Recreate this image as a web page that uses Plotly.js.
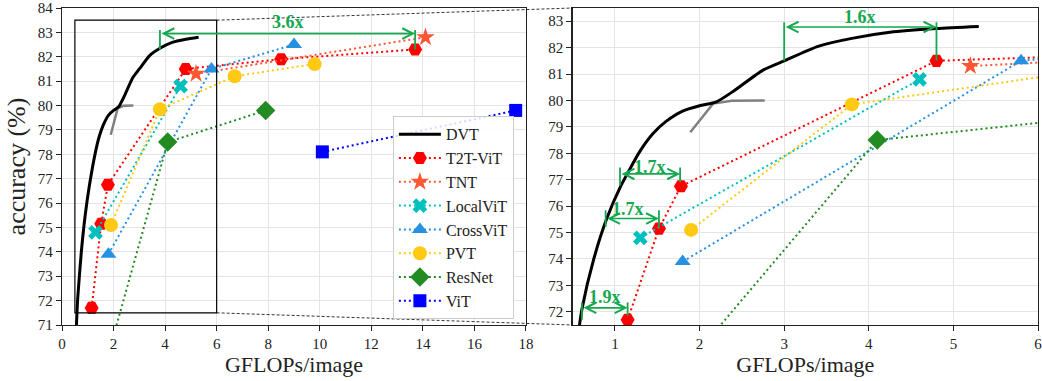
<!DOCTYPE html>
<html>
<head>
<meta charset="utf-8">
<script src="https://cdn.plot.ly/plotly-3.0.1.min.js"></script>
<style>html,body{margin:0;padding:0;background:#fff;}#chart{width:1042px;height:381px;}</style>
</head>
<body>
<div id="chart"></div>
<script>
// ---- data ----
const dvtX = [0.56,0.61,0.75,0.90,1.06,1.30,1.45,1.60,1.80,2.00,2.20,2.40,2.75,3.00,3.40,3.80,4.25,4.80,5.30];
const dvtY = [71.0,72.1,74.0,75.5,76.7,78.1,78.75,79.2,79.6,79.8,79.95,80.35,81.15,81.5,82.05,82.35,82.58,82.72,82.8];
const grayX = [1.89,2.05,2.16,2.38,2.77];
const grayY = [78.8,79.45,79.88,79.99,80.0];
const t2tX = [1.15,1.52,1.78,4.8,8.5,13.7];
const t2tY = [71.7,75.15,76.75,81.5,81.9,82.3];
const tntX = [5.2,14.1];
const tntY = [81.3,82.8];
const localX = [1.3,4.6];
const localY = [74.8,80.8];
const crossX = [1.8,5.8,9.0];
const crossY = [73.9,81.5,82.5];
const pvtX = [1.9,3.8,6.7,9.8];
const pvtY = [75.1,79.85,81.2,81.7];
const resX = [1.8,4.1,7.9];
const resY = [69.8,78.5,79.8];
const vitX = [10.1,17.6];
const vitY = [78.1,79.8];
const leftXTicks = [0,2,4,6,8,10,12,14,16,18];
const leftYTicks = [71,72,73,74,75,76,77,78,79,80,81,82,83,84];
const rightXTicks = [1,2,3,4,5,6];
const rightYTicks = [72,73,74,75,76,77,78,79,80,81,82,83];

const FONT = 'Liberation Serif, DejaVu Serif, serif';
const GREEN = '#14a84f';
const DOT = '2px,3px';

const series = [
  {name:'T2T-ViT', x:t2tX, y:t2tY, color:'#ff0000', symbol:'hexagon2', size:14},
  {name:'TNT', x:tntX, y:tntY, color:'#ff5733', symbol:'star', size:14},
  {name:'LocalViT', x:localX, y:localY, color:'#00bfbf', symbol:'x', size:13},
  {name:'CrossViT', x:crossX, y:crossY, color:'#2591e0', symbol:'triangle-up', size:14},
  {name:'PVT', x:pvtX, y:pvtY, color:'#ffc914', symbol:'circle', size:14},
  {name:'ResNet', x:resX, y:resY, color:'#228b22', symbol:'diamond', size:15},
  {name:'ViT', x:vitX, y:vitY, color:'#0000ff', symbol:'square', size:13}
];

const traces = [];
[['x','y',true],['x2','y2',false]].forEach(([xa,ya,leg]) => {
  traces.push({x:grayX, y:grayY, xaxis:xa, yaxis:ya, mode:'lines', line:{color:'#808080', width:2.5}, showlegend:false, hoverinfo:'skip'});
  traces.push({x:dvtX, y:dvtY, xaxis:xa, yaxis:ya, mode:'lines', name:'DVT', line:{color:'#000', width:3, shape:'spline', smoothing:0.6}, showlegend:leg, legendgroup:'DVT'});
  series.forEach(s => {
    traces.push({x:s.x, y:s.y, xaxis:xa, yaxis:ya, mode:'lines+markers', name:s.name, legendgroup:s.name, showlegend:leg,
      line:{color:s.color, width:2, dash:DOT},
      marker:{color:s.color, symbol:s.symbol, size:s.size, line:{width:0}}});
  });
});

const axisCommon = {
  showgrid:true, gridcolor:'#e4e4e4', gridwidth:1, zeroline:false,
  showline:true, linecolor:'#222', linewidth:1.3, mirror:true,
  ticks:'outside', ticklen:5, tickcolor:'#222', tickwidth:1,
  ticklabeloverflow:'allow',
  tickfont:{family:FONT, size:15, color:'#222'}
};

function dblArrow(xr, yr, x0, x1, y){
  return {xref:xr, yref:yr, axref:xr, ayref:yr, x:x1, y:y, ax:x0, ay:y, text:'', showarrow:true,
    arrowhead:5, startarrowhead:5, arrowside:'end+start', arrowsize:1.3, startarrowsize:1.3, arrowwidth:1.6, arrowcolor:GREEN,
    standoff:0, startstandoff:0};
}
function label(xr, yr, x, y, t){
  return {xref:xr, yref:yr, x:x, y:y, text:'<b>'+t+'</b>', showarrow:false, font:{family:FONT, size:18, color:GREEN}};
}
function vline(xr, yr, x, y0, y1){
  return {type:'line', xref:xr, yref:yr, x0:x, x1:x, y0:y0, y1:y1, line:{color:GREEN, width:1.8}};
}

const L = 0.4754, R0 = 0.5232;

const layout = {
  width:1042, height:381,
  margin:{l:62, r:4, t:8, b:56},
  paper_bgcolor:'#fff', plot_bgcolor:'#fff',
  font:{family:FONT, color:'#222'},
  xaxis: Object.assign({}, axisCommon, {domain:[0,L], range:[0,18], tickvals:leftXTicks, title:{text:'GFLOPs/image', font:{family:FONT, size:22}, standoff:4}}),
  yaxis: Object.assign({}, axisCommon, {domain:[0,1], range:[71,84], tickvals:leftYTicks, title:{text:'accuracy (%)', font:{family:FONT, size:26}, standoff:4}}),
  xaxis2: Object.assign({}, axisCommon, {domain:[R0,1], range:[0.5,6], tickvals:rightXTicks, anchor:'y2', title:{text:'GFLOPs/image', font:{family:FONT, size:22}, standoff:4}}),
  yaxis2: Object.assign({}, axisCommon, {domain:[0,1], range:[71.5,83.5], tickvals:rightYTicks, anchor:'x2'}),
  showlegend:true,
  legend:{x:0.463, y:0.018, xanchor:'right', yanchor:'bottom', bgcolor:'rgba(255,255,255,0.85)', bordercolor:'#cccccc', borderwidth:1,
    font:{family:FONT, size:16, color:'#222'}, itemwidth:42, tracegroupgap:0},
  shapes:[
    {type:'rect', xref:'x', yref:'y', x0:0.5, x1:6, y0:71.5, y1:83.5, line:{color:'#000', width:1.2}},
    {type:'line', xref:'paper', yref:'paper', x0:6/18*L, y0:12.5/13, x1:R0, y1:1, line:{color:'#000', width:0.8, dash:'3px,2px'}},
    {type:'line', xref:'paper', yref:'paper', x0:6/18*L, y0:0.5/13, x1:R0, y1:0, line:{color:'#000', width:0.8, dash:'3px,2px'}},
    vline('x','y',3.8,83.1,82.3), vline('x','y',13.7,83.1,82.3),
    vline('x2','y2',3.0,82.96,81.5), vline('x2','y2',4.8,82.96,81.5),
    vline('x2','y2',1.06,77.46,76.78), vline('x2','y2',1.77,77.46,76.9),
    vline('x2','y2',0.89,75.84,75.21), vline('x2','y2',1.52,75.84,75.25),
    vline('x2','y2',0.61,72.35,71.7), vline('x2','y2',1.15,72.35,71.85)
  ],
  annotations:[
    dblArrow('x','y',3.8,13.7,82.95), label('x','y',8.75,83.42,'3.6x'),
    dblArrow('x2','y2',3.0,4.8,82.78), label('x2','y2',3.9,83.15,'1.6x'),
    dblArrow('x2','y2',1.06,1.77,77.22), label('x2','y2',1.41,77.5,'1.7x'),
    dblArrow('x2','y2',0.89,1.52,75.53), label('x2','y2',1.15,75.88,'1.7x'),
    dblArrow('x2','y2',0.61,1.15,72.15), label('x2','y2',0.88,72.55,'1.9x')
  ]
};

Plotly.newPlot('chart', traces, layout, {displayModeBar:false, staticPlot:true});
</script>
</body>
</html>
